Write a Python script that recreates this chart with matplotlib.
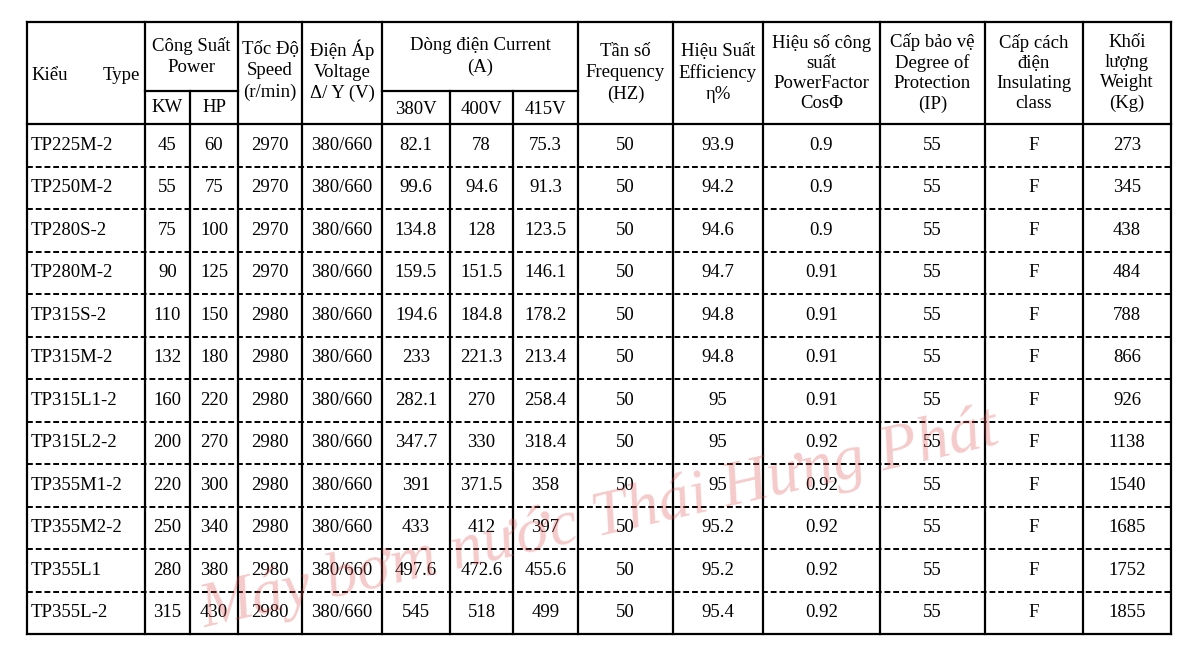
import matplotlib
matplotlib.use("Agg")
import matplotlib.pyplot as plt

types = ["TP225M-2","TP250M-2","TP280S-2","TP280M-2","TP315S-2","TP315M-2","TP315L1-2","TP315L2-2","TP355M1-2","TP355M2-2","TP355L1","TP355L-2"]
kw = ["45","55","75","90","110","132","160","200","220","250","280","315"]
hp = ["60","75","100","125","150","180","220","270","300","340","380","430"]
speed = ["2970"]*4 + ["2980"]*8
voltage = ["380/660"]*12
i380 = ["82.1","99.6","134.8","159.5","194.6","233","282.1","347.7","391","433","497.6","545"]
i400 = ["78","94.6","128","151.5","184.8","221.3","270","330","371.5","412","472.6","518"]
i415 = ["75.3","91.3","123.5","146.1","178.2","213.4","258.4","318.4","358","397","455.6","499"]
freq = ["50"]*12
eff = ["93.9","94.2","94.6","94.7","94.8","94.8","95","95","95","95.2","95.2","95.4"]
pf = ["0.9","0.9","0.9","0.91","0.91","0.91","0.91","0.92","0.92","0.92","0.92","0.92"]
ip = ["55"]*12
ins = ["F"]*12
weight = ["273","345","438","484","788","866","926","1138","1540","1685","1752","1855"]

cols = [types, kw, hp, speed, voltage, i380, i400, i415, freq, eff, pf, ip, ins, weight]
xs = [27, 145, 190, 238, 302, 382, 450, 513, 578, 673, 763, 880, 985, 1083, 1171]
top, mid, hb = 22, 91, 124
rowh = 42.5
nrows = len(types)
bottom = hb + nrows*rowh

plt.rcParams['font.family'] = ['Liberation Serif', 'DejaVu Serif']
fig = plt.figure(figsize=(12, 6.55), dpi=100)
ax = fig.add_axes([0, 0, 1, 1])
ax.set_xlim(0, 1200); ax.set_ylim(655, 0); ax.axis('off')

lw = 1.6
for i, x in enumerate(xs):
    y0 = mid if i in (2, 6, 7) else top
    ax.plot([x, x], [y0, bottom], color='black', lw=lw, solid_capstyle='projecting')
ax.plot([xs[0], xs[-1]], [top, top], color='black', lw=lw)
ax.plot([xs[1], xs[3]], [mid, mid], color='black', lw=lw)
ax.plot([xs[5], xs[8]], [mid, mid], color='black', lw=lw)
ax.plot([xs[0], xs[-1]], [hb, hb], color='black', lw=lw)
ax.plot([xs[0], xs[-1]], [bottom, bottom], color='black', lw=lw)
for r in range(1, nrows):
    y = hb + r*rowh
    ax.plot([xs[0], xs[-1]], [y, y], color='black', lw=1.4, ls=(0, (3, 1.5)))

fs = 13.5
ls = 1.3
def cx(i): return (xs[i] + xs[i+1]) / 2
hy = (top + hb) / 2
ax.text(31, hy+3, "Kiểu", fontsize=fs, va='center', ha='left')
ax.text(140, hy+3, "Type", fontsize=fs, va='center', ha='right')
ax.text((xs[1]+xs[3])/2, (top+mid)/2, "Công Suất\nPower", fontsize=fs, ha='center', va='center', linespacing=ls)
ax.text(cx(1), (mid+hb)/2, "KW", fontsize=fs, ha='center', va='center')
ax.text(cx(2), (mid+hb)/2, "HP", fontsize=fs, ha='center', va='center')
ax.text(cx(3), hy-2, "Tốc Độ\nSpeed\n(r/min)", fontsize=fs, ha='center', va='center', linespacing=ls)
ax.text(cx(4), hy-2, "Điện Áp\nVoltage\nΔ/ Y (V)", fontsize=fs, ha='center', va='center', linespacing=ls)
ax.text((xs[5]+xs[8])/2, (top+mid)/2, "Dòng điện Current\n(A)", fontsize=fs, ha='center', va='center', linespacing=ls)
for i, t in zip((5, 6, 7), ("380V", "400V", "415V")):
    ax.text(cx(i), (mid+hb)/2+2, t, fontsize=fs, ha='center', va='center')
ax.text(cx(8), hy, "Tần số\nFrequency\n(HZ)", fontsize=fs, ha='center', va='center', linespacing=ls)
ax.text(cx(9), hy, "Hiệu Suất\nEfficiency\nη%", fontsize=fs, ha='center', va='center', linespacing=ls)
for c, t in ((10, "Hiệu số công\nsuất\nPowerFactor\nCosΦ"), (11, "Cấp bảo vệ\nDegree of\nProtection\n(IP)"),
             (12, "Cấp cách\nđiện\nInsulating\nclass"), (13, "Khối\nlượng\nWeight\n(Kg)")):
    ax.text(cx(c), hy, t, fontsize=fs, ha='center', va='center', linespacing=1.25)

for r in range(nrows):
    y = hb + (r+0.5)*rowh
    for c, col in enumerate(cols):
        if c == 0:
            ax.text(xs[0]+4, y, col[r], fontsize=fs, ha='left', va='center')
        else:
            ax.text(cx(c), y, col[r], fontsize=fs, ha='center', va='center')

ax.text(600, 520, "Máy bơm nước Thái Hưng Phát", fontsize=46, color='#e05050', alpha=0.3,
        style='italic', ha='center', va='center', rotation=13)

fig.savefig("out.png", dpi=100)
